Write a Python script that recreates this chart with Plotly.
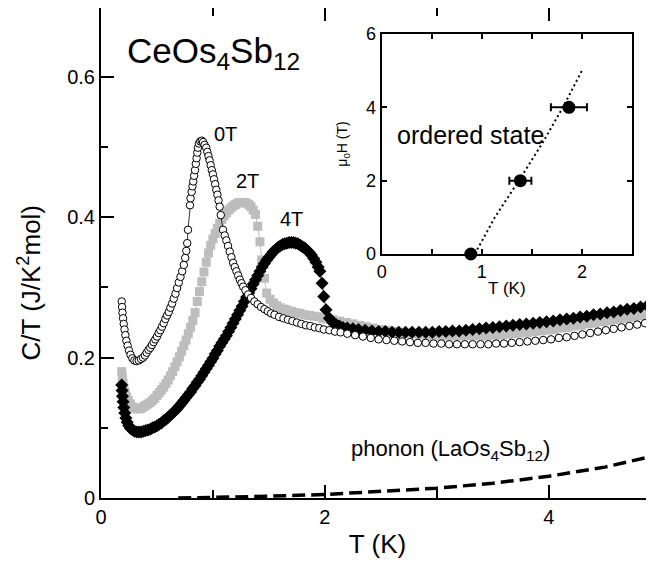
import plotly.graph_objects as go

# ---------------- data ----------------
T_0T = [0.185, 0.188, 0.192, 0.197, 0.203, 0.210, 0.218, 0.227, 0.238, 0.250, 0.264, 0.280, 0.298, 0.318,
        0.338, 0.357, 0.375, 0.392, 0.408, 0.424, 0.440, 0.455, 0.470, 0.485, 0.500, 0.515, 0.530, 0.545,
        0.560, 0.575, 0.590, 0.605, 0.620, 0.635, 0.650, 0.665, 0.680, 0.695, 0.710, 0.725, 0.740, 0.752,
        0.762, 0.770, 0.777, 0.795, 0.800, 0.810, 0.817, 0.824, 0.832, 0.840, 0.847, 0.854, 0.860, 0.866,
        0.875, 0.887, 0.900, 0.912, 0.925, 0.940, 0.950, 0.960, 0.970, 0.980, 0.990, 1.000, 1.010, 1.020,
        1.030, 1.040, 1.050, 1.060, 1.070, 1.090, 1.105, 1.120, 1.135, 1.150, 1.165, 1.180, 1.195, 1.210,
        1.225, 1.240, 1.255, 1.270, 1.290, 1.315, 1.340, 1.370, 1.400, 1.430, 1.460, 1.490, 1.520, 1.550,
        1.590, 1.630, 1.670, 1.710, 1.750, 1.790, 1.830, 1.870, 1.910, 1.950, 1.990, 2.040, 2.090, 2.140,
        2.200, 2.270, 2.340, 2.410, 2.480, 2.550, 2.620, 2.690, 2.760, 2.830, 2.900, 2.970, 3.040, 3.110,
        3.180, 3.250, 3.320, 3.390, 3.460, 3.530, 3.600, 3.670, 3.740, 3.810, 3.880, 3.950, 4.020, 4.090,
        4.160, 4.230, 4.300, 4.370, 4.440, 4.510, 4.580, 4.650, 4.720, 4.790, 4.860, 4.930]
C_0T = [0.280, 0.272, 0.264, 0.256, 0.248, 0.240, 0.232, 0.224, 0.217, 0.210, 0.204, 0.199, 0.196, 0.195,
        0.196, 0.198, 0.200, 0.203, 0.207, 0.211, 0.214, 0.218, 0.222, 0.226, 0.230, 0.235, 0.239, 0.244,
        0.249, 0.255, 0.260, 0.265, 0.271, 0.277, 0.284, 0.291, 0.299, 0.307, 0.315, 0.323, 0.332, 0.342,
        0.352, 0.363, 0.382, 0.417, 0.427, 0.436, 0.444, 0.451, 0.459, 0.467, 0.476, 0.484, 0.492, 0.499,
        0.505, 0.508, 0.509, 0.507, 0.503, 0.499, 0.493, 0.487, 0.481, 0.474, 0.467, 0.461, 0.454, 0.447,
        0.439, 0.432, 0.424, 0.415, 0.403, 0.382, 0.374, 0.367, 0.359, 0.351, 0.343, 0.335, 0.329, 0.323,
        0.317, 0.311, 0.306, 0.301, 0.296, 0.290, 0.285, 0.280, 0.276, 0.272, 0.269, 0.266, 0.263, 0.261,
        0.258, 0.256, 0.254, 0.252, 0.250, 0.248, 0.246, 0.245, 0.243, 0.242, 0.240, 0.239, 0.237, 0.236,
        0.234, 0.232, 0.230, 0.228, 0.226, 0.225, 0.224, 0.223, 0.222, 0.221, 0.221, 0.220, 0.220, 0.219,
        0.219, 0.219, 0.219, 0.219, 0.219, 0.220, 0.220, 0.221, 0.222, 0.223, 0.224, 0.225, 0.226, 0.228,
        0.229, 0.231, 0.233, 0.235, 0.237, 0.239, 0.241, 0.243, 0.245, 0.247, 0.249, 0.251]

T_2T = [0.185, 0.190, 0.197, 0.205, 0.215, 0.228, 0.243, 0.260, 0.280, 0.300, 0.320, 0.340, 0.360, 0.380,
        0.400, 0.420, 0.440, 0.460, 0.480, 0.500, 0.520, 0.540, 0.560, 0.580, 0.600, 0.620, 0.640, 0.660,
        0.680, 0.700, 0.720, 0.740, 0.760, 0.780, 0.800, 0.820, 0.840, 0.860, 0.880, 0.900, 0.920, 0.940,
        0.960, 0.980, 1.000, 1.020, 1.040, 1.060, 1.080, 1.100, 1.120, 1.140, 1.160, 1.180, 1.200, 1.220,
        1.240, 1.260, 1.280, 1.300, 1.320, 1.340, 1.360, 1.380, 1.400, 1.420, 1.435, 1.460, 1.480, 1.510,
        1.540, 1.570, 1.600, 1.630, 1.660, 1.700, 1.740, 1.780, 1.820, 1.860, 1.900, 1.940, 1.980, 2.020,
        2.070, 2.130, 2.190, 2.250, 2.310, 2.370, 2.430, 2.490, 2.550, 2.610, 2.670, 2.730, 2.790, 2.850,
        2.910, 2.970, 3.030, 3.090, 3.150, 3.210, 3.270, 3.330, 3.390, 3.450, 3.510, 3.570, 3.630, 3.690,
        3.750, 3.810, 3.870, 3.930, 3.990, 4.050, 4.110, 4.170, 4.230, 4.290, 4.350, 4.410, 4.470, 4.530,
        4.590, 4.650, 4.710, 4.770, 4.830, 4.890, 4.930]
C_2T = [0.180, 0.172, 0.164, 0.157, 0.150, 0.144, 0.139, 0.134, 0.130, 0.128, 0.127, 0.127, 0.128, 0.130,
        0.132, 0.134, 0.136, 0.139, 0.142, 0.146, 0.150, 0.154, 0.158, 0.163, 0.168, 0.174, 0.180, 0.187,
        0.194, 0.201, 0.209, 0.217, 0.225, 0.234, 0.243, 0.253, 0.264, 0.280, 0.294, 0.308, 0.322, 0.336,
        0.349, 0.360, 0.369, 0.377, 0.384, 0.391, 0.397, 0.402, 0.406, 0.410, 0.413, 0.416, 0.418, 0.420,
        0.421, 0.421, 0.421, 0.420, 0.418, 0.415, 0.410, 0.404, 0.387, 0.365, 0.339, 0.313, 0.292, 0.283,
        0.278, 0.274, 0.271, 0.269, 0.268, 0.266, 0.264, 0.263, 0.261, 0.260, 0.259, 0.258, 0.256, 0.255,
        0.254, 0.252, 0.250, 0.248, 0.246, 0.244, 0.242, 0.240, 0.239, 0.237, 0.236, 0.235, 0.234, 0.233,
        0.232, 0.231, 0.231, 0.231, 0.231, 0.231, 0.231, 0.231, 0.231, 0.231, 0.232, 0.232, 0.233, 0.234,
        0.235, 0.236, 0.237, 0.238, 0.239, 0.240, 0.242, 0.243, 0.245, 0.246, 0.248, 0.249, 0.251, 0.252,
        0.254, 0.255, 0.257, 0.258, 0.260, 0.261, 0.262]

T_4T = [0.185, 0.188, 0.192, 0.197, 0.204, 0.212, 0.222, 0.234, 0.248, 0.264, 0.282, 0.300, 0.320, 0.340,
        0.360, 0.380, 0.400, 0.420, 0.440, 0.460, 0.480, 0.500, 0.520, 0.540, 0.560, 0.580, 0.600, 0.620,
        0.640, 0.660, 0.680, 0.700, 0.720, 0.740, 0.760, 0.780, 0.800, 0.820, 0.840, 0.860, 0.880, 0.900,
        0.920, 0.940, 0.960, 0.980, 1.000, 1.020, 1.040, 1.060, 1.080, 1.100, 1.120, 1.140, 1.160, 1.180,
        1.200, 1.220, 1.240, 1.260, 1.280, 1.300, 1.320, 1.340, 1.360, 1.380, 1.400, 1.420, 1.440, 1.460,
        1.480, 1.500, 1.520, 1.540, 1.560, 1.580, 1.600, 1.620, 1.640, 1.660, 1.680, 1.700, 1.720, 1.740,
        1.760, 1.780, 1.800, 1.820, 1.840, 1.860, 1.880, 1.900, 1.920, 1.940, 1.955, 1.975, 1.990, 2.010,
        2.040, 2.070, 2.100, 2.130, 2.160, 2.200, 2.250, 2.300, 2.360, 2.420, 2.480, 2.540, 2.600, 2.660,
        2.720, 2.780, 2.840, 2.900, 2.960, 3.020, 3.080, 3.140, 3.200, 3.260, 3.320, 3.380, 3.440, 3.500,
        3.560, 3.620, 3.680, 3.740, 3.800, 3.860, 3.920, 3.980, 4.040, 4.100, 4.160, 4.220, 4.280, 4.340,
        4.400, 4.460, 4.520, 4.580, 4.640, 4.700, 4.760, 4.820, 4.880, 4.930]
C_4T = [0.161, 0.153, 0.145, 0.137, 0.129, 0.121, 0.114, 0.108, 0.103, 0.099, 0.097, 0.095, 0.094, 0.094,
        0.094, 0.095, 0.096, 0.097, 0.098, 0.100, 0.101, 0.103, 0.105, 0.107, 0.110, 0.112, 0.115, 0.118,
        0.121, 0.124, 0.127, 0.131, 0.135, 0.139, 0.143, 0.147, 0.151, 0.156, 0.160, 0.165, 0.169, 0.174,
        0.179, 0.184, 0.189, 0.194, 0.199, 0.205, 0.210, 0.216, 0.221, 0.226, 0.231, 0.237, 0.243, 0.249,
        0.255, 0.261, 0.267, 0.273, 0.280, 0.286, 0.292, 0.298, 0.305, 0.311, 0.317, 0.323, 0.329, 0.334,
        0.339, 0.343, 0.347, 0.351, 0.354, 0.357, 0.359, 0.361, 0.362, 0.363, 0.364, 0.364, 0.364, 0.363,
        0.362, 0.360, 0.358, 0.356, 0.353, 0.350, 0.346, 0.341, 0.336, 0.329, 0.323, 0.306, 0.287, 0.268,
        0.256, 0.250, 0.247, 0.245, 0.243, 0.242, 0.241, 0.240, 0.239, 0.238, 0.237, 0.237, 0.236, 0.236,
        0.236, 0.236, 0.236, 0.236, 0.236, 0.237, 0.237, 0.238, 0.238, 0.239, 0.240, 0.241, 0.242, 0.243,
        0.244, 0.245, 0.246, 0.247, 0.248, 0.249, 0.250, 0.251, 0.252, 0.254, 0.255, 0.256, 0.258, 0.259,
        0.261, 0.262, 0.264, 0.265, 0.267, 0.269, 0.270, 0.272, 0.274, 0.275]

T_phonon = [0.69, 1.0, 1.5, 2.0, 2.5, 3.0, 3.5, 4.0, 4.5, 4.94]
C_phonon = [0.0, 0.0007, 0.0025, 0.005, 0.009, 0.014, 0.021, 0.031, 0.044, 0.060]

# inset: phase boundary
Tc_inset = [0.89, 1.385, 1.87]
H_inset = [0, 2, 4]
Tc_err = [0.0, 0.11, 0.18]
T_boundary = [0.93, 1.13, 1.37, 1.60, 1.81, 2.00]
H_boundary = [0, 1, 2, 3, 4, 5]

x_ticks_main = [0, 2, 4]
x_minor_main = [1, 3]
y_ticks_main = [0, 0.2, 0.4, 0.6]
y_minor_main = [0.1, 0.3, 0.5]

FONT = "Arial, Liberation Sans, Helvetica, sans-serif"
GRAY = "#bdbdbd"

fig = go.Figure()

# main panel traces
fig.add_trace(go.Scatter(x=T_phonon, y=C_phonon, mode="lines",
                         line=dict(color="black", width=3.5, dash="13px,6px"),
                         showlegend=False, hoverinfo="skip"))
fig.add_trace(go.Scatter(x=T_2T, y=C_2T, mode="lines+markers",
                         line=dict(color=GRAY, width=1),
                         marker=dict(symbol="square", size=9, color=GRAY),
                         showlegend=False))
fig.add_trace(go.Scatter(x=T_4T, y=C_4T, mode="lines+markers",
                         line=dict(color="black", width=0.8),
                         marker=dict(symbol="diamond", size=10, color="black"),
                         showlegend=False))
fig.add_trace(go.Scatter(x=T_0T, y=C_0T, mode="lines+markers",
                         line=dict(color="black", width=0.8),
                         marker=dict(symbol="circle", size=7.5, color="white",
                                     line=dict(color="black", width=1)),
                         showlegend=False))
# invisible trace to activate right-side tick axis
fig.add_trace(go.Scatter(x=T_phonon, y=C_phonon, yaxis="y3", mode="lines",
                         line=dict(color="rgba(0,0,0,0)"), showlegend=False, hoverinfo="skip"))

# inset traces
fig.add_trace(go.Scatter(x=T_boundary, y=H_boundary, xaxis="x2", yaxis="y2", mode="lines",
                         line=dict(color="black", width=2, dash="2px,3px"),
                         showlegend=False))
fig.add_trace(go.Scatter(x=Tc_inset, y=H_inset, xaxis="x2", yaxis="y2", mode="markers",
                         marker=dict(symbol="circle", size=13, color="black"),
                         error_x=dict(type="data", array=Tc_err, color="black", thickness=2, width=4),
                         showlegend=False, cliponaxis=False))

# note: the page body has an 8px default margin, margins below compensate for it
fig.update_layout(
    width=654, height=566,
    margin=dict(l=93, r=8, t=0, b=76),
    paper_bgcolor="white", plot_bgcolor="white",
    font=dict(family=FONT, color="black"),
    xaxis=dict(domain=[0, 1], range=[0, 4.94], tickvals=x_ticks_main, automargin=False,
               ticks="inside", ticklen=13, tickwidth=2, tickcolor="black",
               minor=dict(tickvals=x_minor_main, ticks="inside", ticklen=8, tickwidth=2, tickcolor="black"),
               showline=True, linewidth=2, linecolor="black", mirror="ticks",
               showgrid=False, zeroline=False,
               tickfont=dict(size=20, family=FONT),
               title=dict(text="T (K)", font=dict(size=26, family=FONT), standoff=8)),
    yaxis=dict(domain=[0, 1], range=[0, 0.698], tickvals=y_ticks_main, automargin=False,
               ticks="inside", ticklen=13, tickwidth=2, tickcolor="black",
               minor=dict(tickvals=y_minor_main, ticks="inside", ticklen=7, tickwidth=2, tickcolor="black"),
               showline=True, linewidth=2, linecolor="black", mirror=False,
               showgrid=False, zeroline=False,
               tickfont=dict(size=20, family=FONT)),
    yaxis3=dict(overlaying="y", side="right", anchor="x", range=[0, 0.698], automargin=False,
                tickvals=y_ticks_main + y_minor_main, ticks="inside", ticklen=8, tickwidth=2,
                tickcolor="black", showticklabels=False, showline=False, showgrid=False, zeroline=False),
    xaxis2=dict(domain=[0.5076, 0.9602], anchor="y2", range=[0, 2.5], dtick=1, automargin=False,
                ticks="inside", ticklen=5, tickwidth=1.5, tickcolor="black",
                minor=dict(dtick=0.5, ticks="inside", ticklen=5, tickwidth=1.5, tickcolor="black"),
                showline=True, linewidth=2, linecolor="black", mirror="ticks",
                showgrid=False, zeroline=False,
                tickfont=dict(size=18, family=FONT),
                title=dict(text="T (K)", font=dict(size=17, family=FONT), standoff=2)),
    yaxis2=dict(domain=[0.498, 0.947], anchor="x2", range=[0, 6], dtick=2, automargin=False,
                ticks="inside", ticklen=5, tickwidth=1.5, tickcolor="black",
                showline=True, linewidth=2, linecolor="black", mirror="ticks",
                showgrid=False, zeroline=False,
                tickfont=dict(size=18, family=FONT),
                title=dict(text="μ<sub>0</sub>H (T)", font=dict(size=14, family=FONT), standoff=15)),
    annotations=[
        dict(x=-0.130, y=0.44, xref="paper", yref="paper", text="C/T (J/K<sup>2</sup>mol)",
             textangle=-90, showarrow=False, xanchor="center", yanchor="middle",
             font=dict(size=26, family=FONT)),
        dict(x=0.214, y=0.634, xref="x", yref="y", text="CeOs<sub>4</sub>Sb<sub>12</sub>",
             showarrow=False, xanchor="left", yanchor="middle", font=dict(size=35, family=FONT)),
        dict(x=1.116, y=0.518, xref="x", yref="y", text="0T", showarrow=False,
             font=dict(size=20, family=FONT)),
        dict(x=1.31, y=0.452, xref="x", yref="y", text="2T", showarrow=False,
             font=dict(size=20, family=FONT)),
        dict(x=1.70, y=0.398, xref="x", yref="y", text="4T", showarrow=False,
             font=dict(size=20, family=FONT)),
        dict(x=3.125, y=0.069, xref="x", yref="y", text="phonon (LaOs<sub>4</sub>Sb<sub>12</sub>)",
             showarrow=False, font=dict(size=22, family=FONT)),
        dict(x=0.889, y=3.245, xref="x2", yref="y2", text="ordered state", showarrow=False,
             font=dict(size=25, family=FONT)),
    ],
)

fig.write_html("out.html")
